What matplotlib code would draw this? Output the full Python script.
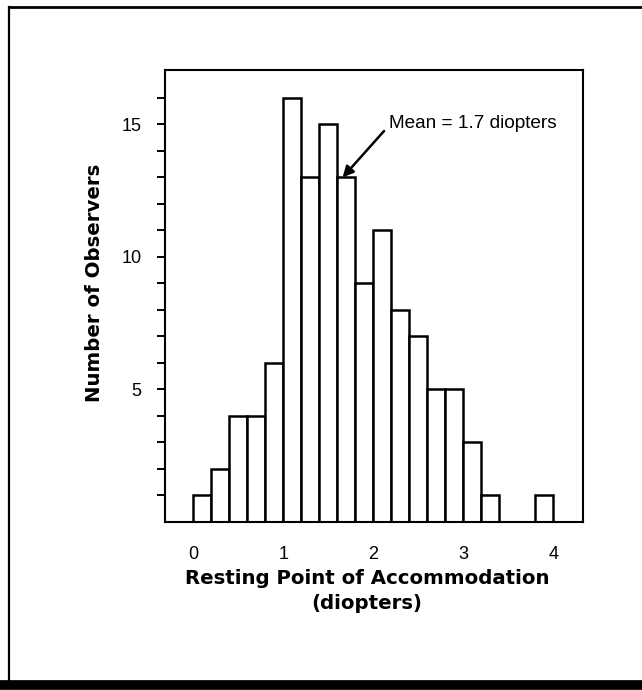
import matplotlib.pyplot as plt
from matplotlib.lines import Line2D

# histogram bins (left edges, diopters) and counts
bin_left = [0.0, 0.2, 0.4, 0.6, 0.8, 1.0, 1.2, 1.4, 1.6, 1.8,
            2.0, 2.2, 2.4, 2.6, 2.8, 3.0, 3.2, 3.4, 3.6, 3.8]
counts = [1, 2, 4, 4, 6, 16, 13, 15, 13, 9,
          11, 8, 7, 5, 5, 3, 1, 0, 0, 1]
bin_width = 0.2

x_ticks = [0, 1, 2, 3, 4]
y_ticks = list(range(1, 17))
y_labels = ['5', '10', '15']

mean_text = 'Mean = 1.7 diopters'
mean_point = (1.66, 13.0)
arrow_tail = (2.12, 14.75)
mean_text_pos = (2.18, 15.05)

plt.rcParams['font.family'] = ['Liberation Sans', 'DejaVu Sans']

fig = plt.figure(figsize=(6.42, 6.9), dpi=100)
ax = fig.add_axes([0.257, 0.2435, 0.651, 0.655])

ax.bar(bin_left, counts, width=bin_width, align='edge',
       facecolor='white', edgecolor='black', linewidth=1.8)

ax.set_xlim(-0.314, 4.33)
ax.set_ylim(0, 17.05)

ax.set_xticks(x_ticks)
ax.set_xticklabels([str(t) for t in x_ticks])
ax.tick_params(axis='x', length=0, pad=17, labelsize=13)

ax.set_yticks(y_ticks)
ax.set_yticklabels([str(t) if str(t) in y_labels else '' for t in y_ticks])
ax.tick_params(axis='y', direction='out', length=6, width=1.4, pad=11, labelsize=13)

for s in ax.spines.values():
    s.set_linewidth(1.5)

label_font = dict(family='DejaVu Sans', fontsize=14.2, fontweight='bold')
ax.set_xlabel('Resting Point of Accommodation\n(diopters)', labelpad=4.5,
              linespacing=1.4, **label_font)
ax.xaxis.label.set_x(0.483)
ax.set_ylabel('Number of Observers', **label_font)
ax.yaxis.set_label_coords(-0.146, 0.529)

ax.text(mean_text_pos[0], mean_text_pos[1], mean_text, fontsize=13.7,
        ha='left', va='center')
ax.annotate('', xy=mean_point, xytext=arrow_tail,
            arrowprops=dict(arrowstyle='-|>', color='black', lw=1.8,
                            mutation_scale=16, shrinkA=0, shrinkB=0))

# outer frame around the figure
fig.add_artist(Line2D([0.014, 0.014], [0.012, 0.99], transform=fig.transFigure,
                      color='black', lw=1.6))
fig.add_artist(Line2D([0.014, 1.0], [0.99, 0.99], transform=fig.transFigure,
                      color='black', lw=2.0))
fig.add_artist(Line2D([0.0, 1.0], [0.007, 0.007], transform=fig.transFigure,
                      color='black', lw=7))

fig.savefig('out.png', dpi=100)
